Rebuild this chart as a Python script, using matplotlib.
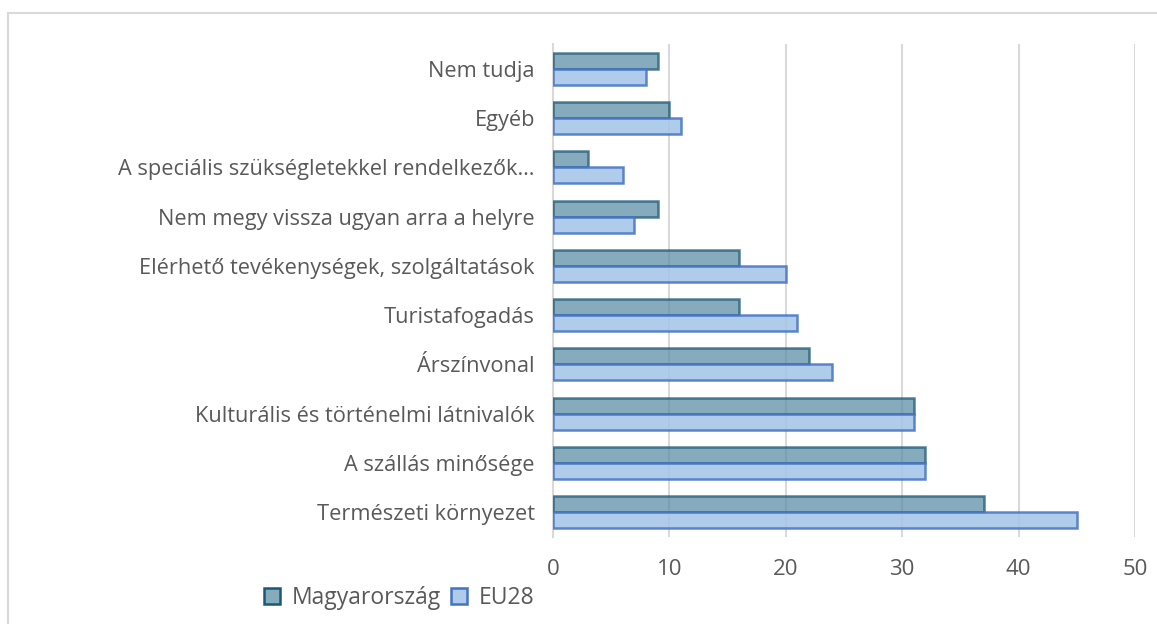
import numpy as np
import matplotlib.pyplot as plt
from matplotlib.lines import Line2D

# categories, top to bottom as in the picture
categories = ["Nem tudja", "Egyéb", "A speciális szükségletekkel rendelkezők…",
              "Nem megy vissza ugyan arra a helyre",
              "Elérhető tevékenységek, szolgáltatások", "Turistafogadás",
              "Árszínvonal", "Kulturális és történelmi látnivalók",
              "A szállás minősége", "Természeti környezet"]
hu_values = [9, 10, 3, 9, 16, 16, 22, 31, 32, 37]
eu_values = [8, 11, 6, 7, 20, 21, 24, 31, 32, 45]
series_names = ["Magyarország", "EU28"]
x_ticks = [0, 10, 20, 30, 40, 50]

plt.rcParams['font.family'] = ['Open Sans', 'DejaVu Sans']
txt = '#595959'
grid = '#D9D9D9'

fig = plt.figure(figsize=(11.57, 6.24), dpi=100)
ax = fig.add_axes([553 / 1157, 1 - 536.6 / 624, (1135 - 553) / 1157, (536.6 - 44.4) / 624])

y = np.arange(len(categories))
h = 0.325
ax.barh(y - h / 2, hu_values, height=h, color='#5E8FA6', alpha=0.75,
        edgecolor='#1B5876', linewidth=1.8, zorder=3)
ax.barh(y + h / 2, eu_values, height=h, color='#A3C4E8', alpha=0.85,
        edgecolor='#4472C4', linewidth=1.8, zorder=3)

ax.set_ylim(len(categories) - 0.5, -0.5)
ax.set_xlim(0, 50)
ax.set_xticks(x_ticks)
ax.set_yticks(y)
ax.set_yticklabels(categories)
ax.tick_params(length=0, labelsize=15.7, colors=txt)
ax.tick_params(axis='y', pad=13)
ax.tick_params(axis='x', pad=16)
for lab in ax.get_xticklabels():
    lab.set_fontsize(16)
ax.xaxis.grid(True, color=grid, linewidth=1.5, zorder=0)
ax.set_axisbelow(True)
for s in ['top', 'right', 'bottom']:
    ax.spines[s].set_visible(False)
ax.spines['left'].set_color(grid)
ax.spines['left'].set_linewidth(1.5)

handles = [
    Line2D([], [], marker='s', linestyle='none', markersize=12,
           markerfacecolor='#84ACBC', markeredgecolor='#1B5876', markeredgewidth=1.8),
    Line2D([], [], marker='s', linestyle='none', markersize=12,
           markerfacecolor='#AECBEB', markeredgecolor='#4472C4', markeredgewidth=1.8),
]
fig.legend(handles, series_names, loc='center left', bbox_to_anchor=(240 / 1157, 1 - 598 / 624),
           ncol=2, frameon=False, fontsize=16.5, labelcolor=txt, handletextpad=0.35,
           columnspacing=0.3, handlelength=1.0)

# chart area border
fig.add_artist(Line2D([8 / 1157, 1], [1 - 13 / 624] * 2, color=grid, linewidth=1.5))
fig.add_artist(Line2D([8 / 1157] * 2, [0, 1 - 13 / 624], color=grid, linewidth=1.5))

fig.savefig('out.png', dpi=100)
